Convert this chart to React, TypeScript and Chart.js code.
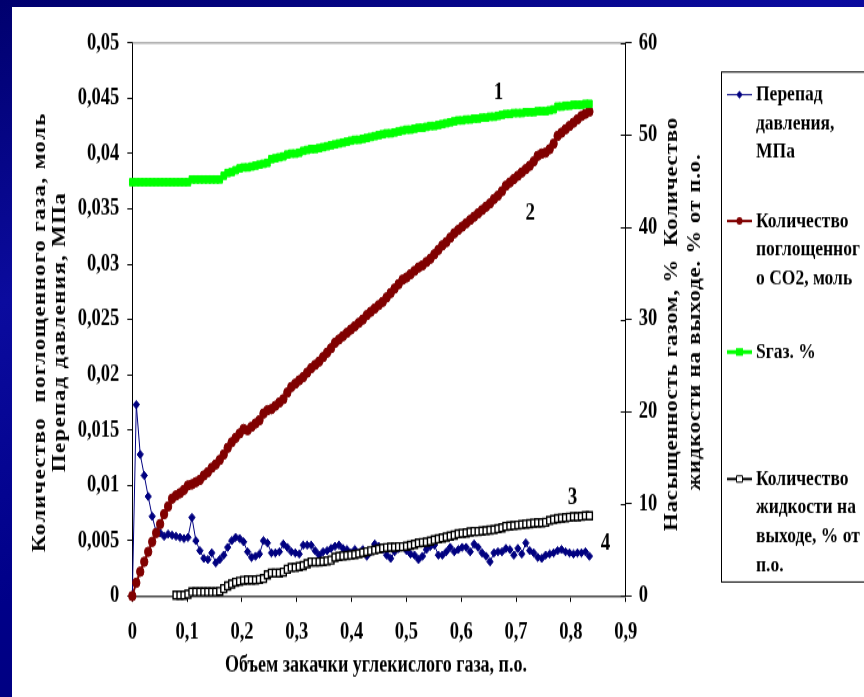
import React, { useEffect, useRef } from 'react';
import { Chart, registerables } from 'chart.js';

Chart.register(...registerables);

// ---------- data ----------
const X = [
  0, 0.0073, 0.0145, 0.0218, 0.029, 0.0363, 0.0435, 0.0508, 0.058, 0.0653,
  0.0725, 0.0798, 0.087, 0.0943, 0.1015, 0.1088, 0.116, 0.1233, 0.1305, 0.1378,
  0.145, 0.1523, 0.1595, 0.1668, 0.174, 0.1813, 0.1885, 0.1958, 0.203, 0.2103,
  0.2175, 0.2248, 0.232, 0.2393, 0.2465, 0.2538, 0.261, 0.2683, 0.2755, 0.2828,
  0.29, 0.2973, 0.3045, 0.3118, 0.319, 0.3263, 0.3335, 0.3408, 0.348, 0.3553,
  0.3625, 0.3698, 0.377, 0.3843, 0.3915, 0.3988, 0.406, 0.4133, 0.4205, 0.4278,
  0.435, 0.4423, 0.4495, 0.4568, 0.464, 0.4713, 0.4785, 0.4858, 0.493, 0.5003,
  0.5075, 0.5148, 0.522, 0.5293, 0.5365, 0.5438, 0.551, 0.5583, 0.5655, 0.5728,
  0.58, 0.5873, 0.5945, 0.6018, 0.609, 0.6163, 0.6235, 0.6308, 0.638, 0.6453,
  0.6525, 0.6598, 0.667, 0.6743, 0.6815, 0.6888, 0.696, 0.7033, 0.7105, 0.7178,
  0.725, 0.7323, 0.7395, 0.7468, 0.754, 0.7613, 0.7685, 0.7758, 0.783, 0.7903,
  0.7975, 0.8048, 0.812, 0.8193, 0.8265, 0.8338,
];

// Перепад давления, МПа (left axis)
const PRESSURE_DROP = [
  0, 0.0173, 0.0128, 0.0109, 0.009, 0.0072, 0.0058, 0.0057, 0.0054, 0.0056,
  0.0055, 0.0054, 0.0053, 0.0052, 0.0053, 0.0071, 0.005, 0.0041, 0.0034, 0.0033,
  0.0039, 0.003, 0.0033, 0.0037, 0.0044, 0.005, 0.0053, 0.0052, 0.0049, 0.004,
  0.0035, 0.0036, 0.0038, 0.005, 0.0048, 0.0039, 0.0039, 0.004, 0.0047, 0.0044,
  0.004, 0.0039, 0.0038, 0.0046, 0.0046, 0.0046, 0.0041, 0.0037, 0.004, 0.0041,
  0.0043, 0.0045, 0.0046, 0.0043, 0.0042, 0.0039, 0.0042, 0.0039, 0.0042, 0.0036,
  0.004, 0.0047, 0.0045, 0.0042, 0.0037, 0.0034, 0.004, 0.0043, 0.0045, 0.0041,
  0.0038, 0.0037, 0.0033, 0.0036, 0.0042, 0.0045, 0.0046, 0.0037, 0.0037, 0.004,
  0.0044, 0.004, 0.0042, 0.0044, 0.0044, 0.004, 0.0047, 0.0044, 0.0039, 0.0036,
  0.0031, 0.0039, 0.004, 0.004, 0.0043, 0.0042, 0.0037, 0.0043, 0.0038, 0.0048,
  0.0041, 0.0039, 0.0035, 0.0034, 0.0037, 0.0038, 0.0039, 0.0041, 0.0042, 0.004,
  0.0039, 0.0038, 0.0039, 0.0039, 0.004, 0.0036,
];

// Количество поглощенного CO2, моль (left axis)
const CO2_ABSORBED = [
  0, 0.0012, 0.0022, 0.0031, 0.004, 0.0049, 0.0057, 0.0065, 0.0074, 0.0081,
  0.0088, 0.0091, 0.0093, 0.0096, 0.01, 0.0101, 0.0103, 0.0105, 0.0109, 0.0112,
  0.0116, 0.0119, 0.0123, 0.0128, 0.0134, 0.0139, 0.0143, 0.0147, 0.0151, 0.015,
  0.0153, 0.0156, 0.0159, 0.0165, 0.0168, 0.0169, 0.0172, 0.0175, 0.0178, 0.0184,
  0.0189, 0.0192, 0.0195, 0.0198, 0.0202, 0.0206, 0.0209, 0.0212, 0.0216, 0.022,
  0.0224, 0.0229, 0.0232, 0.0235, 0.0238, 0.0241, 0.0244, 0.0247, 0.025, 0.0254,
  0.0257, 0.026, 0.0263, 0.0266, 0.027, 0.0274, 0.0278, 0.0282, 0.0286, 0.0288,
  0.0291, 0.0294, 0.0297, 0.0299, 0.0302, 0.0305, 0.0309, 0.0313, 0.0317, 0.032,
  0.0324, 0.0328, 0.0331, 0.0334, 0.0337, 0.034, 0.0343, 0.0346, 0.0349, 0.0352,
  0.0355, 0.0359, 0.0362, 0.0366, 0.0371, 0.0374, 0.0377, 0.038, 0.0383, 0.0386,
  0.0389, 0.0393, 0.0398, 0.04, 0.0401, 0.0404, 0.0409, 0.0416, 0.0419, 0.0422,
  0.0425, 0.0428, 0.0431, 0.0434, 0.0436, 0.0438,
];

// Sгаз, % (right axis)
const GAS_SATURATION = [
  44.9, 44.9, 44.9, 44.9, 44.9, 44.9, 44.9, 44.9, 44.9, 44.9,
  44.9, 44.9, 44.9, 44.9, 44.9, 45.2, 45.2, 45.2, 45.2, 45.2,
  45.2, 45.2, 45.2, 45.6, 45.9, 46.0, 46.2, 46.4, 46.5, 46.5,
  46.6, 46.7, 46.8, 46.9, 47.0, 47.4, 47.5, 47.6, 47.7, 47.9,
  48.0, 48.0, 48.1, 48.3, 48.4, 48.5, 48.5, 48.6, 48.7, 48.8,
  48.9, 49.0, 49.1, 49.2, 49.3, 49.4, 49.5, 49.5, 49.6, 49.7,
  49.8, 49.9, 50.0, 50.1, 50.2, 50.2, 50.3, 50.4, 50.5, 50.6,
  50.6, 50.7, 50.8, 50.8, 50.9, 51.0, 51.0, 51.1, 51.2, 51.3,
  51.4, 51.5, 51.6, 51.6, 51.7, 51.7, 51.8, 51.8, 51.9, 51.9,
  52.0, 52.0, 52.1, 52.2, 52.3, 52.3, 52.4, 52.4, 52.4, 52.5,
  52.5, 52.5, 52.6, 52.6, 52.6, 52.7, 52.8, 53.1, 53.1, 53.2,
  53.2, 53.3, 53.3, 53.3, 53.4, 53.4,
];

// Количество жидкости на выходе, % от п.о. (right axis)
const LIQUID_OUT = [
  null, null, null, null, null, null, null, null, null, null,
  null, 0.1, 0.1, 0.1, 0.2, 0.45, 0.45, 0.45, 0.45, 0.45,
  0.45, 0.45, 0.5, 0.8, 1.1, 1.3, 1.5, 1.6, 1.7, 1.75,
  1.75, 1.75, 1.8, 1.9, 2.3, 2.5, 2.5, 2.5, 2.6, 2.9,
  3.1, 3.1, 3.2, 3.3, 3.5, 3.7, 3.7, 3.7, 3.75, 3.8,
  3.9, 4.2, 4.3, 4.35, 4.4, 4.45, 4.5, 4.6, 4.7, 4.8,
  4.9, 5.0, 5.1, 5.2, 5.25, 5.3, 5.3, 5.35, 5.35, 5.4,
  5.5, 5.6, 5.75, 5.8, 5.85, 5.95, 6.1, 6.2, 6.3, 6.4,
  6.5, 6.6, 6.75, 6.8, 6.85, 6.95, 7.0, 7.0, 7.05, 7.1,
  7.15, 7.2, 7.3, 7.4, 7.55, 7.6, 7.65, 7.7, 7.75, 7.8,
  7.85, 7.9, 7.95, 7.95, 8.0, 8.2, 8.3, 8.4, 8.45, 8.5,
  8.55, 8.6, 8.6, 8.65, 8.7, 8.7,
];

const SERIES_NAMES = [
  'Перепад давления, МПа',
  'Количество поглощенного CO2, моль',
  'Sгаз. %',
  'Количество жидкости на выходе, % от п.о.',
];
const LEGEND_LINES = [
  ['Перепад', 'давления,', 'МПа'],
  ['Количество', 'поглощенног', 'о CO2, моль'],
  ['Sгаз. %'],
  ['Количество', 'жидкости на', 'выходе, % от', 'п.о.'],
];

const X_TICK_VALUES = [0, 0.1, 0.2, 0.3, 0.4, 0.5, 0.6, 0.7, 0.8, 0.9];
const X_TICK_LABELS = ['0', '0,1', '0,2', '0,3', '0,4', '0,5', '0,6', '0,7', '0,8', '0,9'];
const LEFT_TICK_VALUES = [0, 0.005, 0.01, 0.015, 0.02, 0.025, 0.03, 0.035, 0.04, 0.045, 0.05];
const LEFT_TICK_LABELS = ['0', '0,005', '0,01', '0,015', '0,02', '0,025', '0,03', '0,035', '0,04', '0,045', '0,05'];
const RIGHT_TICK_VALUES = [0, 10, 20, 30, 40, 50, 60];
const RIGHT_TICK_LABELS = ['0', '10', '20', '30', '40', '50', '60'];

const X_TITLE = 'Объем закачки углекислого газа, п.о.';
const LEFT_TITLE = ['Количество  поглощенного газа, моль', 'Перепад давления, МПа'];
const RIGHT_TITLE = ['Насыщенность газом, %  Количество', 'жидкости на выходе. % от п.о.'];

const CURVE_LABELS = ['1', '2', '3', '4'];
const CURVE_LABEL_X = [0.668, 0.726, 0.803, 0.863];
const CURVE_LABEL_Y = [0.0455, 0.0346, 0.0089, 0.0048];

const COLORS = ['#000080', '#800000', '#00ff00', '#000000'];

// ---------- layout ----------
const W = 864;
const H = 549;
const S = 697 / H; // vertical stretch of the picture
const FAMILY = '"Liberation Serif", "Times New Roman", serif';
const FONT_PX = 17.5;
const FONT = `bold ${FONT_PX}px ${FAMILY}`;
const TICK_PX = 18.5;

function drawRotated(ctx: CanvasRenderingContext2D, text: string, cx: number, cy: number, len: number) {
  ctx.save();
  ctx.translate(cx, cy);
  ctx.rotate(-Math.PI / 2);
  ctx.font = `bold 18px ${FAMILY}`;
  ctx.fillStyle = '#000';
  ctx.textAlign = 'left';
  ctx.textBaseline = 'middle';
  (ctx as any).letterSpacing = '0px';
  const w = ctx.measureText(text).width;
  if (w < len) {
    (ctx as any).letterSpacing = ((len - w) / text.length).toFixed(2) + 'px';
    ctx.fillText(text, -len / 2, 0);
  } else {
    ctx.fillText(text, -len / 2, 0, len);
  }
  (ctx as any).letterSpacing = '0px';
  ctx.restore();
}

function drawMarker(ctx: CanvasRenderingContext2D, kind: number, x: number, y: number) {
  ctx.save();
  ctx.beginPath();
  if (kind === 0) {
    const r = 3.2;
    ctx.moveTo(x - r, y);
    ctx.lineTo(x, y - r);
    ctx.lineTo(x + r, y);
    ctx.lineTo(x, y + r);
    ctx.closePath();
    ctx.fillStyle = COLORS[0];
    ctx.fill();
  } else if (kind === 1) {
    ctx.arc(x, y, 3, 0, Math.PI * 2);
    ctx.fillStyle = COLORS[1];
    ctx.fill();
  } else if (kind === 2) {
    ctx.rect(x - 3.5, y - 3, 7, 6);
    ctx.fillStyle = COLORS[2];
    ctx.fill();
  } else {
    ctx.rect(x - 3, y - 2.5, 6, 5);
    ctx.fillStyle = '#fff';
    ctx.fill();
    ctx.lineWidth = 1;
    ctx.strokeStyle = '#000';
    ctx.stroke();
  }
  ctx.restore();
}

const decorPlugin = {
  id: 'decor',
  beforeDatasetsDraw(chart: any) {
    const { ctx, chartArea } = chart;
    ctx.save();
    ctx.strokeStyle = '#808080';
    ctx.lineWidth = 1;
    ctx.beginPath();
    ctx.moveTo(chartArea.left, chartArea.top);
    ctx.lineTo(chartArea.right, chartArea.top);
    ctx.stroke();
    // right-axis ticks cross the axis (inner half)
    const yr = chart.scales.yR;
    ctx.strokeStyle = '#000';
    ctx.beginPath();
    RIGHT_TICK_VALUES.forEach((v) => {
      const py = Math.round(yr.getPixelForValue(v)) + 0.5;
      ctx.moveTo(chartArea.right - 5, py);
      ctx.lineTo(chartArea.right, py);
    });
    ctx.stroke();
    ctx.restore();
  },
  afterDraw(chart: any) {
    const ctx: CanvasRenderingContext2D = chart.ctx;
    const xs = chart.scales.x;
    const yl = chart.scales.yL;

    // axis titles
    drawRotated(ctx, LEFT_TITLE[0], 40, 332 / S, 440 / S);
    drawRotated(ctx, LEFT_TITLE[1], 60, 332 / S, 280 / S);
    drawRotated(ctx, RIGHT_TITLE[0], 672, 324 / S, 414 / S);
    drawRotated(ctx, RIGHT_TITLE[1], 695, 322 / S, 337 / S);

    ctx.save();
    ctx.font = `bold 18px ${FAMILY}`;
    ctx.fillStyle = '#000';
    ctx.textAlign = 'center';
    ctx.textBaseline = 'middle';
    ctx.fillText(X_TITLE, 376, 666 / S);

    // curve numbers
    ctx.font = `bold 19px ${FAMILY}`;
    CURVE_LABELS.forEach((t, i) => {
      ctx.fillText(t, xs.getPixelForValue(CURVE_LABEL_X[i]), yl.getPixelForValue(CURVE_LABEL_Y[i]));
    });
    ctx.restore();

    // legend
    ctx.save();
    ctx.strokeStyle = '#000';
    ctx.lineWidth = 1;
    ctx.strokeRect(721.5, 72 / S, 200, 510 / S);
    const markerY = [94.7, 221, 352, 479];
    const lineGap = 28.8;
    const widths = [1, 2, 3, 2];
    LEGEND_LINES.forEach((lines, i) => {
      const y = markerY[i] / S;
      ctx.beginPath();
      ctx.strokeStyle = COLORS[i];
      ctx.lineWidth = widths[i];
      ctx.moveTo(727, y);
      ctx.lineTo(752, y);
      ctx.stroke();
      drawMarker(ctx, i, 739.5, y);
      ctx.font = FONT;
      ctx.fillStyle = '#000';
      ctx.textAlign = 'left';
      ctx.textBaseline = 'middle';
      lines.forEach((ln, j) => {
        ctx.fillText(ln, 756, (markerY[i] + j * lineGap) / S);
      });
    });
    ctx.restore();
  },
};

export default function App() {
  const ref = useRef<HTMLCanvasElement | null>(null);

  useEffect(() => {
    if (!ref.current) return;
    const pts = (ys: (number | null)[]) =>
      X.map((x, i) => ({ x, y: ys[i] })).filter((p) => p.y !== null);
    const tickFont = { family: FAMILY, size: TICK_PX, weight: 'bold' as const };

    const chart = new Chart(ref.current, {
      type: 'line',
      data: {
        datasets: [
          {
            label: SERIES_NAMES[0],
            data: pts(PRESSURE_DROP) as any,
            yAxisID: 'yL',
            borderColor: COLORS[0],
            backgroundColor: COLORS[0],
            borderWidth: 1,
            pointStyle: 'rectRot',
            pointRadius: 3.2,
            pointBorderWidth: 1,
            pointBorderColor: COLORS[0],
            pointBackgroundColor: COLORS[0],
            order: 4,
            clip: false as any,
          },
          {
            label: SERIES_NAMES[1],
            data: pts(CO2_ABSORBED) as any,
            yAxisID: 'yL',
            borderColor: COLORS[1],
            backgroundColor: COLORS[1],
            borderWidth: 2,
            pointStyle: 'circle',
            pointRadius: 3.7,
            pointBorderWidth: 1,
            pointBorderColor: COLORS[1],
            pointBackgroundColor: COLORS[1],
            order: 3,
            clip: false as any,
          },
          {
            label: SERIES_NAMES[2],
            data: pts(GAS_SATURATION) as any,
            yAxisID: 'yR',
            borderColor: COLORS[2],
            backgroundColor: COLORS[2],
            borderWidth: 2.5,
            pointStyle: 'rect',
            pointRadius: 4,
            pointBorderWidth: 1,
            pointBorderColor: COLORS[2],
            pointBackgroundColor: COLORS[2],
            order: 2,
            clip: false as any,
          },
          {
            label: SERIES_NAMES[3],
            data: pts(LIQUID_OUT) as any,
            yAxisID: 'yR',
            borderColor: COLORS[3],
            backgroundColor: '#ffffff',
            borderWidth: 2,
            pointStyle: 'rect',
            pointRadius: 4.2,
            pointBorderWidth: 1.4,
            pointBorderColor: COLORS[3],
            pointBackgroundColor: '#ffffff',
            order: 1,
            clip: false as any,
          },
        ],
      },
      options: {
        responsive: false,
        animation: false,
        devicePixelRatio: 1,
        layout: { padding: { top: 43 / S, left: 0, right: 0, bottom: 0 } },
        plugins: {
          legend: { display: false },
          tooltip: { enabled: false },
          title: { display: false },
        },
        elements: { line: { tension: 0 } },
        scales: {
          x: {
            type: 'linear',
            position: 'bottom',
            min: 0,
            max: 0.9,
            afterBuildTicks: (s: any) => {
              s.ticks = X_TICK_VALUES.map((v) => ({ value: v }));
            },
            afterFit: (s: any) => {
              s.height = H - 596 / S;
            },
            ticks: {
              callback: (_v: any, i: number) => X_TICK_LABELS[i],
              font: tickFont,
              color: '#000',
              padding: 13,
              maxRotation: 0,
              autoSkip: false,
            },
            grid: {
              drawOnChartArea: false,
              drawTicks: true,
              tickLength: 6 / S,
              color: '#000',
              lineWidth: 1,
            },
            border: { display: true, color: '#404040', width: 2 / S },
          },
          yL: {
            type: 'linear',
            position: 'left',
            min: 0,
            max: 0.05,
            afterBuildTicks: (s: any) => {
              s.ticks = LEFT_TICK_VALUES.map((v) => ({ value: v }));
            },
            afterFit: (s: any) => {
              s.width = 132.3;
            },
            ticks: {
              callback: (_v: any, i: number) => LEFT_TICK_LABELS[i],
              font: tickFont,
              color: '#000',
              padding: 8,
              autoSkip: false,
            },
            grid: { drawOnChartArea: false, drawTicks: true, tickLength: 5, color: '#000', lineWidth: 1 },
            border: { display: true, color: '#000', width: 1 },
          },
          yR: {
            type: 'linear',
            position: 'right',
            min: 0,
            max: 60,
            afterBuildTicks: (s: any) => {
              s.ticks = RIGHT_TICK_VALUES.map((v) => ({ value: v }));
            },
            afterFit: (s: any) => {
              s.width = W - 625.7;
            },
            ticks: {
              callback: (_v: any, i: number) => RIGHT_TICK_LABELS[i],
              font: tickFont,
              color: '#000',
              padding: 7,
              autoSkip: false,
            },
            grid: { drawOnChartArea: false, drawTicks: true, tickLength: 6, color: '#000', lineWidth: 1 },
            border: { display: true, color: '#000', width: 1 },
          },
        },
      } as any,
      plugins: [decorPlugin],
    });
    return () => chart.destroy();
  }, []);

  return (
    <div
      style={{
        position: 'fixed',
        left: 0,
        top: 0,
        width: 864,
        height: 697,
        overflow: 'hidden',
        background: 'linear-gradient(160deg, #00006e 0%, #0b0b9e 30%, #000088 60%, #000070 100%)',
      }}
    >
      <div style={{ position: 'absolute', left: 12, top: 7, width: 852, height: 690, background: '#ffffff' }} />
      <div
        style={{
          position: 'absolute',
          left: 0,
          top: 0,
          width: W,
          height: H,
          transform: `scaleY(${S})`,
          transformOrigin: '0 0',
        }}
      >
        <canvas ref={ref} width={W} height={H} style={{ display: 'block', width: W, height: H }} />
      </div>
    </div>
  );
}
